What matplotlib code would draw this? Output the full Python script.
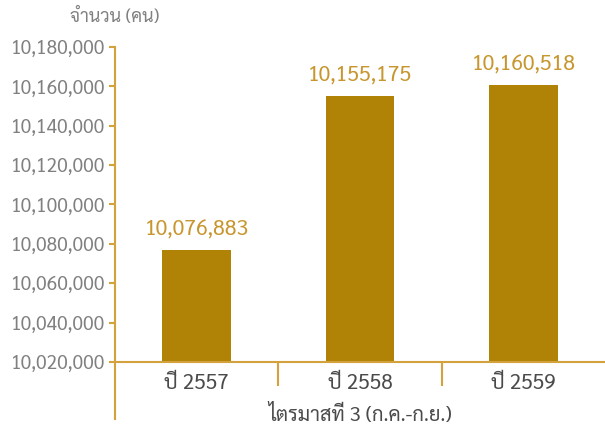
import os
import matplotlib
matplotlib.use('Agg')
import matplotlib.pyplot as plt
from matplotlib import font_manager
from matplotlib.ticker import FuncFormatter

# ข้อมูล
years = ['ปี 2557', 'ปี 2558', 'ปี 2559']
people = [10076883, 10155175, 10160518]
y_ticks = [10020000, 10040000, 10060000, 10080000, 10100000,
           10120000, 10140000, 10160000, 10180000]

# ฟอนต์ภาษาไทย
thai_font = 'DejaVu Sans'
for path in font_manager.findSystemFonts():
    if os.path.basename(path) == 'Sarabun-Regular.ttf':
        font_manager.fontManager.addfont(path)
        thai_font = font_manager.FontProperties(fname=path).get_name()
        break
plt.rcParams['font.family'] = [thai_font, 'DejaVu Sans']

bar_color = '#B08206'
axis_color = '#D4A23C'
label_color = '#C8962E'

fig = plt.figure(figsize=(6.05, 4.34), dpi=100)
ax = fig.add_axes([0.19, 0.166, 0.81, 0.726])

ax.bar(range(len(years)), people, width=0.42, color=bar_color)
for i, v in enumerate(people):
    ax.text(i, v + 5000, f'{v:,}', ha='center', va='bottom',
            fontsize=15.3, color=label_color)

ax.set_xlim(-0.5, 2.5)
ax.set_ylim(10020000, 10180000)
ax.set_yticks(y_ticks)
ax.yaxis.set_major_formatter(FuncFormatter(lambda v, p: f'{int(v):,}'))
ax.set_xticks(range(len(years)))
ax.set_xticklabels(years)
ax.set_xticks([0.5, 1.5], minor=True)

for s in ['top', 'right']:
    ax.spines[s].set_visible(False)
for s in ['left', 'bottom']:
    ax.spines[s].set_color(axis_color)
    ax.spines[s].set_linewidth(1.5)

ax.tick_params(axis='y', colors=axis_color, labelcolor='#808080',
               labelsize=13.8, length=4, width=1.5, pad=3)
ax.tick_params(axis='x', which='major', length=0, labelsize=15,
               labelcolor='#4A4A4A', pad=8)
ax.tick_params(axis='x', which='minor', length=17, width=1.5,
               color=axis_color)
ax.plot([0, 0], [-0.18, 0], transform=ax.transAxes, color=axis_color,
        lw=1.5, clip_on=False)

ax.set_xlabel('ไตรมาสที่ 3 (ก.ค.-ก.ย.)', fontsize=14.5, color='#4A4A4A',
              labelpad=7)
fig.text(0.116, 0.96, 'จำนวน (คน)', fontsize=13, color='#808080',
         va='center')

fig.savefig('out.png', dpi=100)
